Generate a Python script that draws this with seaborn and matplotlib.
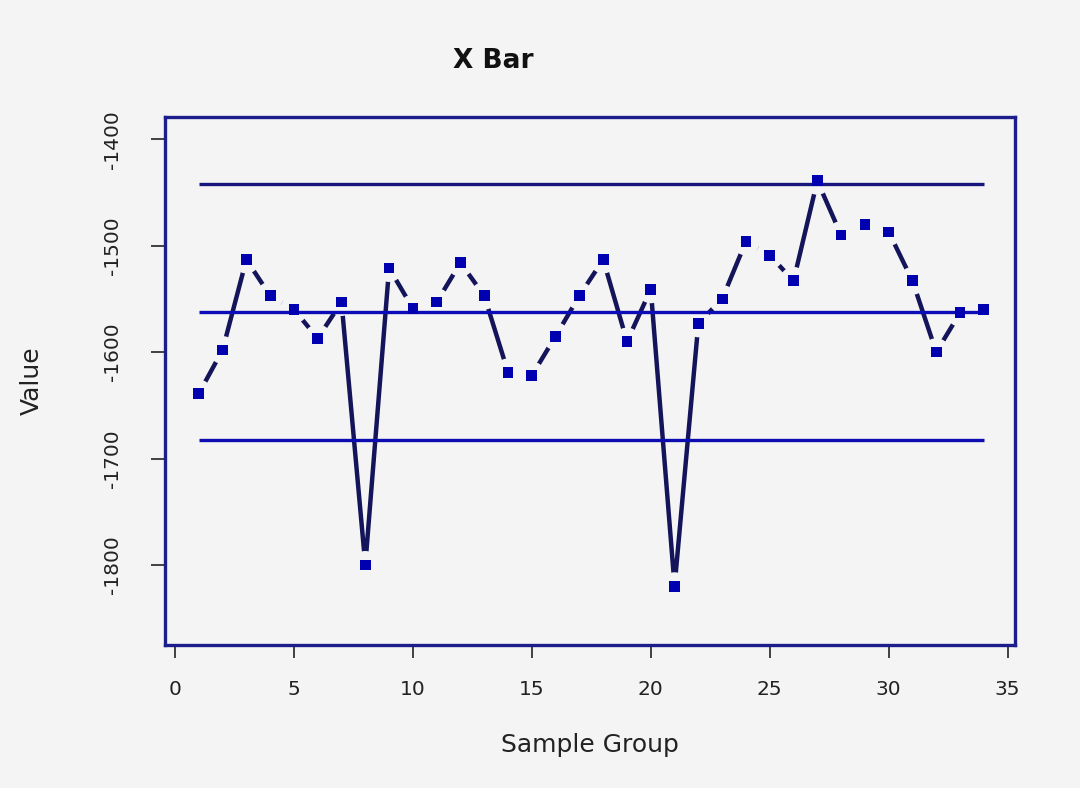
import numpy as np
import pandas as pd
import matplotlib
matplotlib.use("Agg")
import matplotlib.pyplot as plt
import seaborn as sns

# ---- data ----
groups = list(range(1, 35))
xbar = [-1639, -1598, -1513, -1547, -1560, -1587, -1553, -1800, -1521, -1559,
        -1553, -1516, -1547, -1619, -1622, -1585, -1547, -1513, -1590, -1541,
        -1820, -1573, -1550, -1496, -1509, -1533, -1439, -1490, -1480, -1487,
        -1533, -1600, -1563, -1560]
ucl = -1442
center = -1562.5
lcl = -1683
x_ticks = [0, 5, 10, 15, 20, 25, 30, 35]
y_ticks = [-1800, -1700, -1600, -1500, -1400]

df = pd.DataFrame({"group": groups, "value": xbar})

BG = "#f4f4f4"
sns.set_theme(style="white")
plt.rcParams["font.family"] = ["DejaVu Sans"]
plt.rcParams["axes.unicode_minus"] = False

fig = plt.figure(figsize=(10.8, 7.88), dpi=100, facecolor=BG)
ax = fig.add_axes([165 / 1080, 1 - 645 / 788, 850 / 1080, 528 / 788])
ax.set_facecolor(BG)

# data line (R type="b": gaps around points)
sns.lineplot(data=df, x="group", y="value", ax=ax, color="#14145a",
             linewidth=3.2, estimator=None, sort=False, zorder=1)
# background discs create the gaps around points
sns.scatterplot(data=df, x="group", y="value", ax=ax, marker="o", s=400,
                color=BG, edgecolor="none", linewidth=0, zorder=2, legend=False)

# control lines
ax.hlines(ucl, groups[0], groups[-1], colors="#16167c", linewidth=2.4, zorder=3)
ax.hlines(center, groups[0], groups[-1], colors="#0b0bb8", linewidth=2.4, zorder=3)
ax.hlines(lcl, groups[0], groups[-1], colors="#0c0cb0", linewidth=2.4, zorder=3)

# markers
sns.scatterplot(data=df, x="group", y="value", ax=ax, marker="s", s=60,
                color="#0000b0", edgecolor="none", linewidth=0, zorder=4,
                legend=False)

ax.set_xlim(-0.42, 35.31)
ax.set_ylim(-1875.3, -1379)
ax.set_xticks(x_ticks)
ax.set_xticklabels([str(t) for t in x_ticks])
ax.set_yticks(y_ticks)
ax.set_yticklabels([str(t) for t in y_ticks], rotation=90, va="center")

for s in ax.spines.values():
    s.set_visible(True)
    s.set_color("#1c1c8c")
    s.set_linewidth(2.4)

ax.tick_params(axis="x", direction="out", length=9.5, width=1.2, color="#222222",
               pad=16, labelsize=14.5, labelcolor="#222222", bottom=True)
ax.tick_params(axis="y", direction="out", length=10, width=1.2, color="#222222",
               pad=21, labelsize=14.5, labelcolor="#222222", left=True)

ax.set_xlabel("Sample Group", fontsize=18, color="#222222", va="center")
ax.xaxis.set_label_coords(0.5, -(745 - 645) / 528)
ax.set_ylabel("Value", fontsize=18, color="#222222", va="center")
ax.yaxis.set_label_coords((32 - 165) / 850, 0.5)

fig.text(493 / 1080, 1 - 61 / 788, "X Bar", ha="center", va="center",
         fontsize=19, fontweight="bold", color="#111111")

fig.savefig("out.png", dpi=100, facecolor=BG)
